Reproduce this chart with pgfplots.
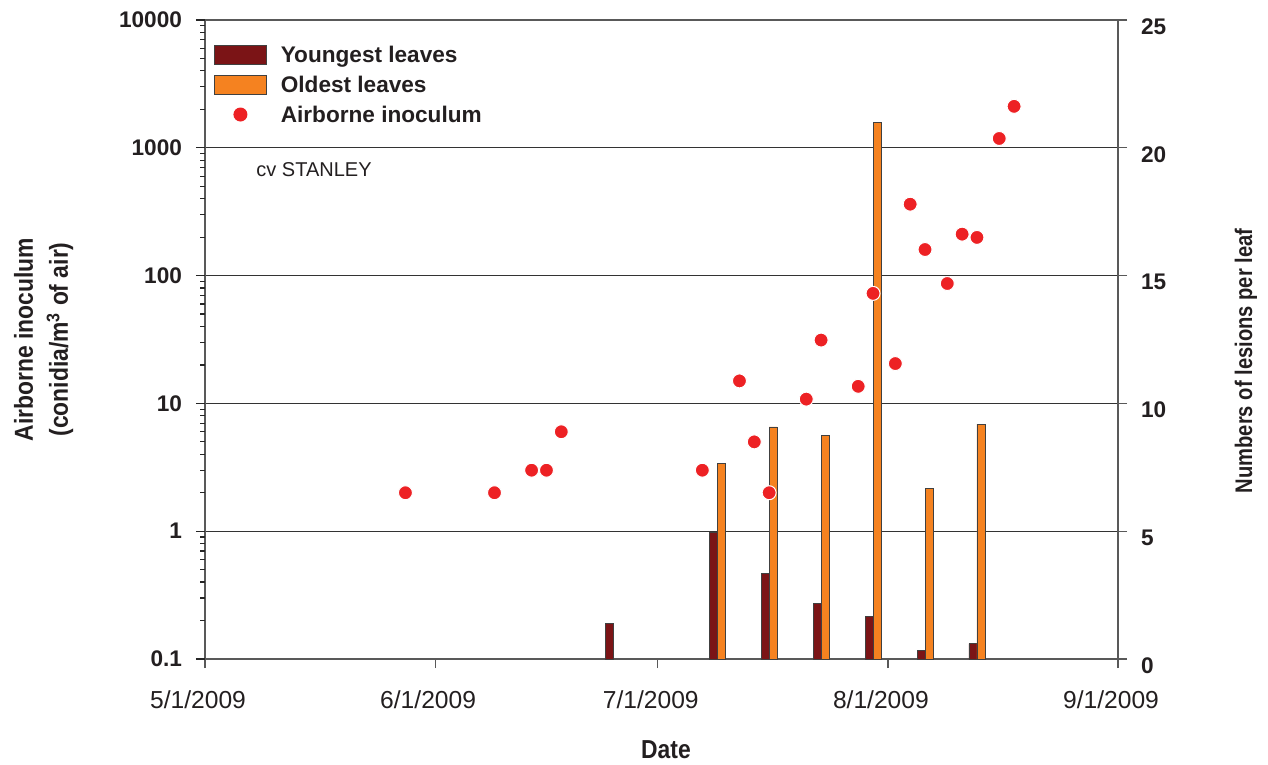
\documentclass[border=0pt]{standalone}
\usepackage{fontspec}
\setmainfont{Liberation Sans}
\usepackage{graphicx}
\usepackage{pgfplots}
\pgfplotsset{compat=1.18}
\definecolor{youngc}{RGB}{123,20,22}
\definecolor{oldc}{RGB}{245,130,32}
\definecolor{ptc}{RGB}{237,33,36}
\definecolor{txt}{RGB}{35,31,32}
\begin{document}
\begin{tikzpicture}
% ---------- bars axis (right, linear) ----------
\begin{axis}[
  scale only axis, width=456.5pt, height=319.5pt,
  xmin=0, xmax=123, ymin=0, ymax=25,
  ybar, bar width=1.08,
  xtick={0,31,61,92,123},
  xticklabels={5/1/2009,6/1/2009,7/1/2009,8/1/2009,9/1/2009},
  xtick pos=bottom, ytick pos=right, yticklabel pos=right,
  ytick={0,5,10,15,20,25},
  yticklabels={0,5,10,15,20,25},
  tick align=outside,
  major tick length=4.5pt,
  ymajorgrids, major grid style={black!80, line width=0.6pt},
  axis line style={black!65, line width=0.7pt},
  tick style={black!65, line width=0.6pt},
  xticklabel style={font=\fontsize{12.3}{14}\selectfont, text=txt, yshift=-8pt, xshift=-3.5pt},
  yticklabel style={font=\bfseries\fontsize{11.3}{13}\selectfont, text=txt, yshift=-3.25pt, xshift=3.5pt},
]
\addplot[fill=youngc, draw=black!75, line width=0.4pt, bar shift=-0.54] coordinates {
 (55,1.40) (69,4.96) (76,3.36) (83,2.19) (90,1.66) (97,0.33) (104,0.60)};
\addplot[fill=oldc, draw=black!75, line width=0.4pt, bar shift=0.54] coordinates {
 (69,7.66) (76,9.08) (83,8.76) (90,21.0) (97,6.66) (104,9.19)};
\end{axis}
% ---------- inoculum axis (left, log) ----------
\begin{axis}[
  scale only axis, width=456.5pt, height=319.5pt,
  xmin=0, xmax=123, ymode=log, ymin=0.1, ymax=10000,
  hide x axis, axis line style={draw=none},
  ytick pos=left,
  ytick={0.1,1,10,100,1000,10000},
  yticklabels={0.1,1,10,100,1000,10000},
  minor ytick={0.2,0.3,0.4,0.5,0.6,0.7,0.8,0.9,2,3,4,5,6,7,8,9,20,30,40,50,60,70,80,90,200,300,400,500,600,700,800,900,2000,3000,4000,5000,6000,7000,8000,9000},
  tick align=outside, major tick length=4.5pt, minor tick length=2.5pt,
  tick style={black!85, line width=0.6pt},
  yticklabel style={font=\bfseries\fontsize{11.3}{13}\selectfont, text=txt, xshift=-3.5pt},
  legend cell align=left,
  legend style={draw=none, fill=none, at={(0.0099,0.9624)}, anchor=north west,
    inner sep=0pt, outer sep=0pt, row sep=4.5pt,
    font=\bfseries\fontsize{11.3}{13}\selectfont, text=txt,
    nodes={text height=9.3pt, text depth=1.2pt, inner sep=0pt},
    /tikz/every odd column/.append style={column sep=7pt}},
]
\addlegendimage{legend image code/.code={\draw[fill=youngc, draw=black!75, line width=0.4pt] (0pt,-4.75pt) rectangle (26pt,4.75pt);}}
\addlegendentry{Youngest leaves}
\addlegendimage{legend image code/.code={\draw[fill=oldc, draw=black!75, line width=0.4pt] (0pt,-4.75pt) rectangle (26pt,4.75pt);}}
\addlegendentry{Oldest leaves}
\addplot[only marks, mark=*, mark size=3.5pt, mark options={fill=ptc, draw=white, line width=0.5pt},
  legend image code/.code={\path[draw=none, fill=none] (0pt,-4.75pt) rectangle (26pt,4.75pt); \fill[ptc, draw=none] (13pt,0pt) circle (3.5pt);}]
 coordinates {
 (27,2) (39,2) (44,3) (46,3) (48,6) (67,3) (72,15) (74,5) (76,2) (81,10.8)
 (83,31.3) (88,13.6) (90,72.6) (93,20.5) (95,362) (97,160) (100,86.7) (102,211)
 (104,199) (107,1183) (109,2110)};
\addlegendentry{Airborne inoculum}
\end{axis}
% ---------- texts ----------
\node[anchor=west, font=\fontsize{10}{12}\selectfont, text=txt, inner sep=0pt] at (25.5pt,244.5pt) {cv STANLEY};
\node[rotate=90, font=\bfseries\fontsize{13}{17.5}\selectfont, text=txt, inner sep=0pt] at (-80.75pt,159.75pt)
  {\scalebox{0.88}[1]{\begin{tabular}{@{}c@{}}Airborne inoculum\\(conidia/m\textsuperscript{3} of air)\end{tabular}}};
\node[rotate=90, font=\bfseries\fontsize{12}{14}\selectfont, text=txt, inner sep=0pt] at (520.5pt,149pt)
  {\scalebox{0.84}[1]{Numbers of lesions per leaf}};
\node[font=\bfseries\fontsize{13}{15}\selectfont, text=txt, inner sep=0pt] at (230.5pt,-45.5pt)
  {\scalebox{0.88}[1]{Date}};
\pgfresetboundingbox
\useasboundingbox (-102.5pt,-53pt) rectangle (531.5pt,329.5pt);
\end{tikzpicture}
\end{document}
